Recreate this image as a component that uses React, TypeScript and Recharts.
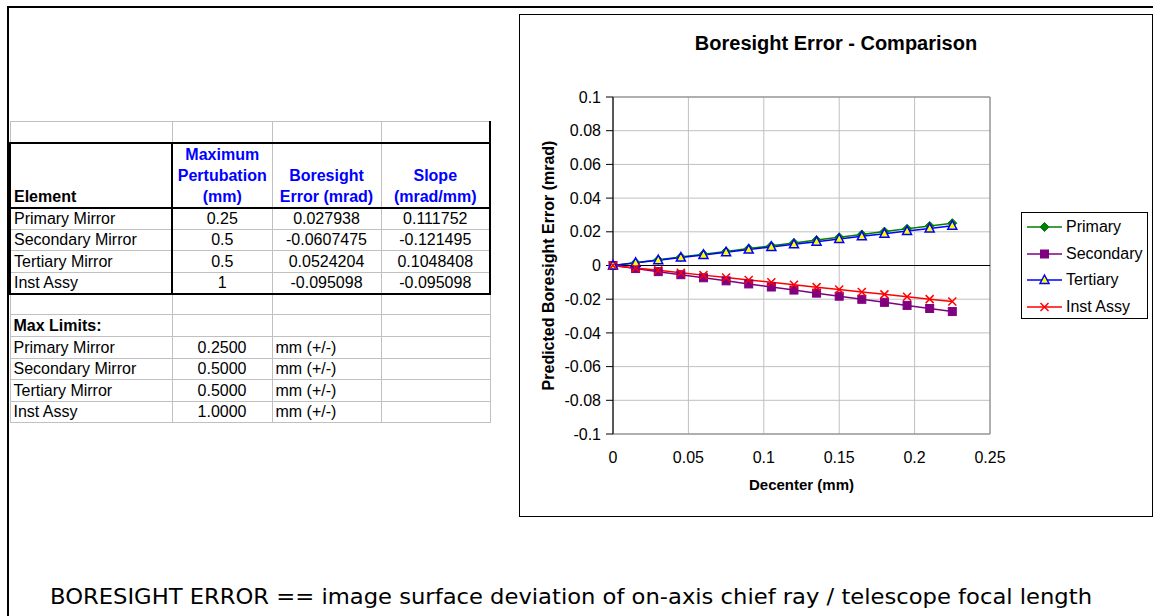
import React from "react";
import {
  LineChart,
  Line,
  XAxis,
  YAxis,
  CartesianGrid,
  ReferenceLine,
  ReferenceArea,
  Legend,
  Label,
} from "recharts";

// decenter steps (mm) and predicted boresight error (mrad) per element
const decenter = [
  0, 0.015, 0.03, 0.045, 0.06, 0.075, 0.09, 0.105, 0.12, 0.135, 0.15, 0.165,
  0.18, 0.195, 0.21, 0.225,
];
const primary = [
  0, 0.00168, 0.00335, 0.00503, 0.00671, 0.00838, 0.01006, 0.01173, 0.01341,
  0.01509, 0.01676, 0.01844, 0.02012, 0.02179, 0.02347, 0.02514,
];
const secondary = [
  0, -0.00182, -0.00364, -0.00547, -0.00729, -0.00911, -0.01093, -0.01276,
  -0.01458, -0.0164, -0.01822, -0.02005, -0.02187, -0.02369, -0.02551,
  -0.02734,
];
const tertiary = [
  0, 0.00157, 0.00315, 0.00472, 0.00629, 0.00786, 0.00944, 0.01101, 0.01258,
  0.01415, 0.01573, 0.0173, 0.01887, 0.02044, 0.02202, 0.02359,
];
const instAssy = [
  0, -0.00143, -0.00285, -0.00428, -0.00571, -0.00713, -0.00856, -0.00999,
  -0.01141, -0.01284, -0.01426, -0.01569, -0.01712, -0.01854, -0.01997,
  -0.0214,
];

const xTicks = [0, 0.05, 0.1, 0.15, 0.2, 0.25];
const yTicks = [
  -0.1, -0.08, -0.06, -0.04, -0.02, 0, 0.02, 0.04, 0.06, 0.08, 0.1,
];

// sensitivity table
const elements = [
  "Primary Mirror",
  "Secondary Mirror",
  "Tertiary Mirror",
  "Inst Assy",
];
const maxPerturbation = ["0.25", "0.5", "0.5", "1"];
const boresightError = ["0.027938", "-0.0607475", "0.0524204", "-0.095098"];
const slopes = ["0.111752", "-0.121495", "0.1048408", "-0.095098"];
const maxLimits = ["0.2500", "0.5000", "0.5000", "1.0000"];

type MarkerKind = "diamond" | "square" | "triangle" | "cross";

interface Series {
  key: string;
  name: string;
  color: string;
  marker: MarkerKind;
}

const series: Series[] = [
  { key: "primary", name: "Primary", color: "#008000", marker: "diamond" },
  { key: "secondary", name: "Secondary", color: "#800080", marker: "square" },
  { key: "tertiary", name: "Tertiary", color: "#0000ff", marker: "triangle" },
  { key: "instAssy", name: "Inst Assy", color: "#ff0000", marker: "cross" },
];

const data = decenter.map((x, i) => ({
  x,
  primary: primary[i],
  secondary: secondary[i],
  tertiary: tertiary[i],
  instAssy: instAssy[i],
}));

const FONT = "'Liberation Sans', Arial, sans-serif";

function Marker({
  cx,
  cy,
  kind,
  color,
}: {
  cx: number;
  cy: number;
  kind: MarkerKind;
  color: string;
}) {
  if (kind === "diamond") {
    return (
      <path
        d={`M${cx},${cy - 4.5}L${cx + 4.5},${cy}L${cx},${cy + 4.5}L${cx - 4.5},${cy}Z`}
        fill={color}
        stroke={color}
        strokeWidth={1}
      />
    );
  }
  if (kind === "square") {
    return (
      <rect
        x={cx - 4}
        y={cy - 4}
        width={8}
        height={8}
        fill={color}
        stroke={color}
        strokeWidth={1}
      />
    );
  }
  if (kind === "triangle") {
    return (
      <path
        d={`M${cx},${cy - 5}L${cx + 4.5},${cy + 3.5}L${cx - 4.5},${cy + 3.5}Z`}
        fill="#ffff00"
        stroke={color}
        strokeWidth={1.5}
      />
    );
  }
  return (
    <path
      d={`M${cx - 4},${cy - 4}L${cx + 4},${cy + 4}M${cx + 4},${cy - 4}L${cx - 4},${cy + 4}`}
      stroke={color}
      strokeWidth={1.5}
      fill="none"
    />
  );
}

function renderDot(s: Series) {
  return (props: any) => {
    const { cx, cy, index } = props;
    if (cx == null || cy == null) return <g key={`${s.key}-${index}`} />;
    return (
      <Marker
        key={`${s.key}-${index}`}
        cx={cx}
        cy={cy}
        kind={s.marker}
        color={s.color}
      />
    );
  };
}

const fmt = (v: number) => {
  const n = Number(v.toFixed(2));
  return n === 0 ? "0" : String(n);
};

function LegendBox() {
  return (
    <div
      style={{
        width: 127,
        height: 107,
        boxSizing: "border-box",
        border: "1px solid #000",
        background: "#fff",
        paddingTop: 1,
        fontFamily: FONT,
        fontSize: 16,
        color: "#000",
      }}
    >
      {series.map((s) => (
        <div
          key={s.key}
          style={{ height: 26.5, display: "flex", alignItems: "center" }}
        >
          <svg width={44} height={14} style={{ flex: "none" }}>
            <line x1={5} y1={7} x2={40} y2={7} stroke={s.color} strokeWidth={1.5} />
            <Marker cx={22.5} cy={7} kind={s.marker} color={s.color} />
          </svg>
          <span style={{ whiteSpace: "nowrap" }}>{s.name}</span>
        </div>
      ))}
    </div>
  );
}

const grayCell: React.CSSProperties = {
  border: "1px solid #c0c0c0",
  padding: "0 3px",
  height: 21,
  boxSizing: "border-box",
  whiteSpace: "nowrap",
};
const blk = "2px solid #000";

function SensitivityTable() {
  const head: React.CSSProperties = {
    ...grayCell,
    color: "#0000ff",
    fontWeight: "bold",
    textAlign: "center",
    verticalAlign: "bottom",
    lineHeight: "21px",
    height: 64,
    borderTop: blk,
    borderBottom: blk,
  };
  return (
    <table
      style={{
        position: "absolute",
        left: 9,
        top: 121,
        borderCollapse: "collapse",
        tableLayout: "fixed",
        fontFamily: FONT,
        fontSize: 16,
        lineHeight: "19px",
        color: "#000",
      }}
    >
      <colgroup>
        <col style={{ width: 162 }} />
        <col style={{ width: 100 }} />
        <col style={{ width: 109 }} />
        <col style={{ width: 109 }} />
      </colgroup>
      <tbody>
        <tr>
          <td style={grayCell} />
          <td style={grayCell} />
          <td style={grayCell} />
          <td style={{ ...grayCell, borderRight: blk }} />
        </tr>
        <tr>
          <td
            style={{
              ...head,
              color: "#000",
              textAlign: "left",
              borderLeft: blk,
              borderRight: blk,
            }}
          >
            Element
          </td>
          <td style={head}>
            Maximum
            <br />
            Pertubation
            <br />
            (mm)
          </td>
          <td style={head}>
            Boresight
            <br />
            Error (mrad)
          </td>
          <td style={{ ...head, borderRight: blk }}>
            Slope
            <br />
            (mrad/mm)
          </td>
        </tr>
        {elements.map((el, i) => {
          const last = i === elements.length - 1;
          const rowStyle: React.CSSProperties = {
            ...grayCell,
            height: 21.5,
            borderBottom: last ? blk : grayCell.border,
          };
          return (
            <tr key={el}>
              <td style={{ ...rowStyle, borderLeft: blk, borderRight: blk }}>
                {el}
              </td>
              <td style={{ ...rowStyle, textAlign: "center" }}>
                {maxPerturbation[i]}
              </td>
              <td style={{ ...rowStyle, textAlign: "center" }}>
                {boresightError[i]}
              </td>
              <td style={{ ...rowStyle, textAlign: "center", borderRight: blk }}>
                {slopes[i]}
              </td>
            </tr>
          );
        })}
        <tr>
          <td style={grayCell} />
          <td style={grayCell} />
          <td style={grayCell} />
          <td style={grayCell} />
        </tr>
        <tr>
          <td style={{ ...grayCell, fontWeight: "bold", height: 22 }}>
            Max Limits:
          </td>
          <td style={grayCell} />
          <td style={grayCell} />
          <td style={grayCell} />
        </tr>
        {elements.map((el, i) => (
          <tr key={`lim-${el}`}>
            <td style={{ ...grayCell, height: 21.5 }}>{el}</td>
            <td style={{ ...grayCell, textAlign: "center" }}>{maxLimits[i]}</td>
            <td style={grayCell}>mm (+/-)</td>
            <td style={grayCell} />
          </tr>
        ))}
      </tbody>
    </table>
  );
}

export default function App() {
  return (
    <div
      style={{
        position: "absolute",
        left: 0,
        top: 0,
        width: 1153,
        height: 616,
        background: "#fff",
        overflow: "hidden",
      }}
    >
      <div
        style={{
          position: "absolute",
          left: 7,
          top: 6,
          width: 1146,
          height: 610,
          borderTop: "2px solid #000",
          borderLeft: "2px solid #000",
        }}
      />
      <SensitivityTable />

      <div
        style={{
          position: "absolute",
          left: 519,
          top: 14,
          width: 634,
          height: 503,
          boxSizing: "border-box",
          border: "1px solid #000",
          background: "#fff",
        }}
      >
        <div
          style={{
            position: "absolute",
            left: 0,
            top: 16,
            width: 632,
            textAlign: "center",
            fontFamily: FONT,
            fontWeight: "bold",
            fontSize: 20,
            lineHeight: "24px",
          }}
        >
          Boresight Error - Comparison
        </div>
        <LineChart
          width={632}
          height={501}
          data={data}
          margin={{ top: 82, right: 162, left: 13, bottom: 22 }}
        >
          <CartesianGrid stroke="#c0c0c0" strokeWidth={1} />
          <XAxis
            dataKey="x"
            type="number"
            domain={[0, 0.25]}
            ticks={xTicks}
            interval={0}
            tickFormatter={fmt}
            axisLine={false}
            tickLine={false}
            tickMargin={12}
            height={60}
            tick={{ fontSize: 16, fill: "#000", fontFamily: FONT }}
          >
            <Label
              value="Decenter (mm)"
              position="insideBottom"
              offset={4}
              style={{
                fontSize: 15,
                fontWeight: "bold",
                fill: "#000",
                fontFamily: FONT,
              }}
            />
          </XAxis>
          <YAxis
            type="number"
            domain={[-0.1, 0.1]}
            ticks={yTicks}
            interval={0}
            tickFormatter={fmt}
            width={80}
            axisLine={{ stroke: "#000" }}
            tickLine={{ stroke: "#000" }}
            tickSize={7}
            tickMargin={5}
            tick={{ fontSize: 16, fill: "#000", fontFamily: FONT }}
          >
            <Label
              value="Predicted Boresight Error (mrad)"
              angle={-90}
              position="insideLeft"
              offset={15}
              style={{
                textAnchor: "middle",
                fontSize: 16,
                fontWeight: "bold",
                fill: "#000",
                fontFamily: FONT,
              }}
            />
          </YAxis>
          <ReferenceArea
            x1={0}
            x2={0.25}
            y1={-0.1}
            y2={0.1}
            fill="none"
            stroke="#808080"
            strokeWidth={1}
          />
          <ReferenceLine y={0} stroke="#000" strokeWidth={1} />
          <Legend
            layout="vertical"
            align="center"
            verticalAlign="middle"
            wrapperStyle={{ left: 501, top: 197, width: 127 }}
            content={() => <LegendBox />}
          />
          {series.map((s) => (
            <Line
              key={s.key}
              dataKey={s.key}
              name={s.name}
              stroke={s.color}
              strokeWidth={1.5}
              dot={renderDot(s)}
              activeDot={false}
              isAnimationActive={false}
            />
          ))}
        </LineChart>
      </div>

      <svg
        width={1153}
        height={40}
        style={{ position: "absolute", left: 0, top: 576 }}
      >
        <text
          x={50}
          y={28}
          textLength={1042}
          lengthAdjust="spacingAndGlyphs"
          fontFamily="'DejaVu Sans', sans-serif"
          fontSize={21}
          fill="#000"
        >
          BORESIGHT ERROR == image surface deviation of on-axis chief ray /
          telescope focal length
        </text>
      </svg>
    </div>
  );
}
